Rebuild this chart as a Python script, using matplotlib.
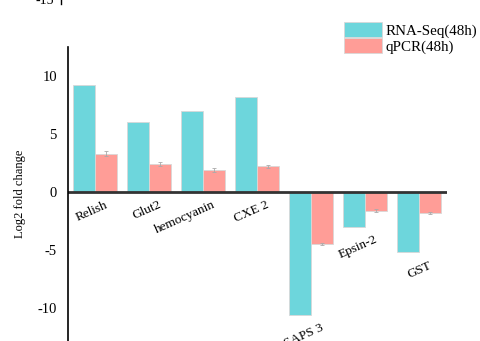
import matplotlib
matplotlib.use("Agg")
import matplotlib.pyplot as plt
import numpy as np
from matplotlib.lines import Line2D

genes = ["Relish", "Glut2", "hemocyanin", "CXE 2", "SAPS 3", "Epsin-2", "GST"]
rna_seq = [9.2, 6.0, 7.0, 8.2, -10.6, -3.0, -5.2]
qpcr = [3.3, 2.4, 1.9, 2.2, -4.5, -1.6, -1.8]
qpcr_err = [0.2, 0.2, 0.15, 0.15, 0.1, 0.1, 0.1]
yticks = [10, 5, 0, -5, -10]

cyan = "#6DD6DC"
pink = "#FF9D97"

plt.rcParams['font.family'] = ['Liberation Serif', 'DejaVu Serif']

fig = plt.figure(figsize=(4.81, 3.41), dpi=100)
ax = fig.add_axes([68/481, 0, (447-68)/481, 1-47/341])

x = np.arange(len(genes))
w = 0.4
ax.bar(x - w/2, rna_seq, w, color=cyan, edgecolor="#d8d8d8", linewidth=0.6, label="RNA-Seq(48h)")
ax.bar(x + w/2, qpcr, w, color=pink, edgecolor="#d8d8d8", linewidth=0.6, label="qPCR(48h)")
ax.errorbar(x + w/2, qpcr, yerr=qpcr_err, fmt='none', ecolor="#aaaaaa", elinewidth=0.6, capsize=1.5, capthick=0.6)

ax.axhline(0, color="#333333", linewidth=2)
ax.set_xlim(-0.5, 6.52)
ax.set_ylim(-12.85, 12.5)
ax.set_yticks(yticks)
ax.set_yticklabels([str(t) for t in yticks], fontsize=10.5)
ax.tick_params(axis='y', length=0, pad=8)
ax.set_xticks([])
for s in ["top", "right", "bottom"]:
    ax.spines[s].set_visible(False)
ax.spines["left"].set_linewidth(1.2)
ax.set_ylabel("Log2 fold change", fontsize=9, labelpad=8)

for i, g in enumerate(genes):
    base = min(0, rna_seq[i], qpcr[i])
    ax.text(i + 0.17, base - 0.6, g, ha='right', va='top', rotation=24,
            rotation_mode='anchor', fontsize=9.5)

ax.legend(loc='upper left', bbox_to_anchor=(338/481, 1 - 16/341), bbox_transform=fig.transFigure,
          frameon=False, fontsize=10.8, handlelength=2.5, handleheight=1.2,
          handletextpad=0.25, labelspacing=0.0, borderaxespad=0)

fig.text(36/481, 1.0, "-15", ha='left', va='center', fontsize=10)
fig.add_artist(Line2D([61/481, 61/481], [1, 1 - 4/341], color='black', linewidth=1, transform=fig.transFigure))

fig.savefig("out.png", dpi=100)
